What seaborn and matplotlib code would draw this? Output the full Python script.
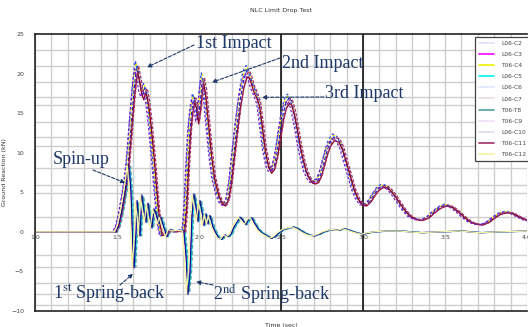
import numpy as np
import pandas as pd
import matplotlib
matplotlib.use("Agg")
import matplotlib.pyplot as plt
import seaborn as sns
from matplotlib.lines import Line2D
from matplotlib.ticker import FixedLocator, MultipleLocator

# ---------------- data ----------------
series_names = ["L06-C2", "L06-C3", "T06-C4", "L06-C5", "L06-C6", "L06-C7",
                "T06-T8", "T06-C9", "L06-C10", "T06-C11", "T06-C12"]
series_colors = ["#1a2cc8", "#ff00ff", "#f0f000", "#00f0f0", "#3050ff", "#8a0025",
                 "#50a0a0", "#7a20c8", "#101090", "#a0306a", "#f4f4a0"]
series_group = ["high", "low", "high", "low", "high", "high",
                "low", "high", "low", "high", "low"]
time_shift = [0.000, 0.008, -0.006, 0.012, -0.010, 0.004, 0.016, -0.014, 0.006, 0.010, -0.004]
gain = [1.00, 0.97, 1.02, 0.99, 1.03, 0.96, 1.01, 0.98, 1.04, 0.995, 1.015]

# main-gear type response (impacts and decaying oscillation)
high_t = [0.90, 1.488, 1.506, 1.524, 1.543, 1.555, 1.567, 1.579, 1.591, 1.604, 1.616, 1.622,
          1.634, 1.646, 1.659, 1.671, 1.677, 1.689, 1.701, 1.713, 1.726, 1.738, 1.750, 1.762,
          1.774, 1.793, 1.823, 1.854, 1.884, 1.909, 1.921, 1.933, 1.945, 1.957, 1.970, 1.982,
          1.994, 2.006, 2.018, 2.024, 2.037, 2.055, 2.073, 2.091, 2.116, 2.140, 2.159, 2.177,
          2.195, 2.213, 2.232, 2.250, 2.268, 2.287, 2.299, 2.311, 2.329, 2.348, 2.366, 2.384,
          2.402, 2.421, 2.439, 2.457, 2.476, 2.494, 2.512, 2.530, 2.549, 2.561, 2.579, 2.598,
          2.616, 2.634, 2.652, 2.671, 2.689, 2.707, 2.726, 2.744, 2.762, 2.780, 2.799, 2.823,
          2.848, 2.872, 2.896, 2.921, 2.945, 2.970, 2.994, 3.018, 3.043, 3.067, 3.091, 3.116,
          3.140, 3.165, 3.195, 3.226, 3.256, 3.287, 3.323, 3.360, 3.396, 3.433, 3.470, 3.506,
          3.543, 3.579, 3.616, 3.652, 3.689, 3.726, 3.762, 3.799, 3.835, 3.872, 3.909, 3.945,
          3.982, 4.018, 4.05]
high_v = [0.0, 0.0, 0.8, 2.5, 4.8, 6.5, 8.5, 11.5, 14.8, 18.0, 20.3, 21.0,
          19.8, 18.2, 17.4, 18.2, 18.0, 16.6, 14.5, 12.0, 9.0, 5.8, 2.8, 0.6,
          -0.5, -0.3, 0.2, 0.0, 0.1, 0.0, 3.0, 8.5, 13.0, 15.5, 17.0, 16.2,
          14.2, 16.0, 18.8, 19.5, 18.0, 14.0, 10.0, 7.0, 4.8, 3.6, 3.4, 4.2,
          6.5, 10.0, 13.5, 16.5, 18.8, 20.2, 20.4, 19.8, 18.5, 17.6, 16.5, 13.5,
          10.5, 8.5, 7.7, 8.2, 10.0, 12.5, 14.8, 16.3, 16.9, 16.7, 15.3, 13.2,
          11.0, 9.2, 7.8, 6.9, 6.4, 6.3, 6.5, 7.4, 8.8, 10.2, 11.3, 12.0,
          11.8, 10.8, 9.0, 7.2, 5.4, 4.2, 3.5, 3.4, 3.9, 4.7, 5.4, 5.8,
          5.8, 5.4, 4.6, 3.6, 2.7, 2.0, 1.6, 1.5, 1.8, 2.5, 3.1, 3.4,
          3.2, 2.6, 1.9, 1.3, 1.0, 0.9, 1.2, 1.8, 2.3, 2.5, 2.4, 2.0,
          1.6, 1.4, 1.4]

# spring-back type response (drops at each impact, then small ripples)
low_t = [0.90, 1.488, 1.506, 1.524, 1.543, 1.555, 1.567, 1.579, 1.591, 1.598, 1.610, 1.616,
         1.628, 1.634, 1.646, 1.659, 1.671, 1.683, 1.695, 1.707, 1.720, 1.732, 1.750, 1.762,
         1.780, 1.799, 1.817, 1.841, 1.872, 1.902, 1.915, 1.927, 1.939, 1.951, 1.963, 1.976,
         1.988, 2.000, 2.012, 2.024, 2.037, 2.049, 2.061, 2.079, 2.098, 2.116, 2.134, 2.152,
         2.171, 2.189, 2.207, 2.226, 2.244, 2.262, 2.280, 2.299, 2.317, 2.335, 2.360, 2.384,
         2.409, 2.433, 2.457, 2.482, 2.512, 2.543, 2.573, 2.604, 2.634, 2.665, 2.695, 2.726,
         2.756, 2.787, 2.817, 2.848, 2.878, 2.909, 2.951, 2.994, 3.030, 3.073, 3.134, 3.226,
         3.348, 3.470, 3.591, 3.713, 3.835, 4.018, 4.05]
low_v = [0.0, 0.0, 0.8, 2.5, 4.8, 6.5, 8.2, 5.0, -2.0, -4.4, 0.0, 3.8,
         1.5, -0.5, 4.5, 2.5, 1.2, 3.5, 1.8, 0.5, 2.8, 2.2, 1.0, 1.8,
         0.5, -0.6, 0.3, 0.1, 0.2, 0.1, -3.0, -7.6, -5.0, 2.0, 4.6, 3.0,
         1.3, 3.8, 2.5, 0.8, 2.2, 1.0, 2.0, 0.6, -0.2, -0.8, -0.9, -0.4,
         -0.6, -0.3, 0.6, 1.2, 1.8, 1.4, 0.9, 1.6, 1.7, 1.0, 0.2, -0.2,
         -0.5, -0.8, -0.6, -0.1, 0.3, 0.5, 0.6, 0.3, -0.1, -0.4, -0.5, -0.3,
         0.0, 0.2, 0.3, 0.2, 0.4, 0.2, -0.1, -0.3, -0.1, 0.0, 0.1, 0.1,
         -0.1, 0.0, 0.1, -0.1, 0.0, 0.1, 0.1]

y_ticks = [-10, -5, 0, 5, 10, 15, 20, 25]
x_ticks = [1.0, 1.5, 2.0, 2.5, 3.0, 3.5, 4.0]
x_tick_labels = ["1.0", "1.5", "2.0", "2.5", "3.0", "3.5", "4.0"]
y_grid_values = [23, 21, 20, 18.9, 17, 16, 13.9, 12, 10.8, 8.1, 5.9, 4.9, 1.9,
                 -2.9, -4.5, -6.4, -7.9, -9.3]
cursor_times = [2.5, 3.0]

# ---------------- build table ----------------
rows = []
for name, grp, sh, g in zip(series_names, series_group, time_shift, gain):
    bt, bv = (high_t, high_v) if grp == "high" else (low_t, low_v)
    for t, v in zip(bt, bv):
        rows.append((name, t + sh, v * g))
df = pd.DataFrame(rows, columns=["series", "time", "force"])

# ---------------- figure ----------------
sns.set_theme(style="white")
plt.rcParams["font.family"] = ["DejaVu Sans"]
plt.rcParams["mathtext.fontset"] = "stix"

W, H = 528, 327
fig = plt.figure(figsize=(W / 100, H / 100), dpi=100)
ax = fig.add_axes([35 / W, 1 - 311 / H, (527 - 35) / W, (311 - 34) / H])

ax.set_xlim(1.0, 4.0)
ax.set_ylim(-10, 25)

# grid
ax.xaxis.set_major_locator(FixedLocator(x_ticks))
ax.xaxis.set_minor_locator(MultipleLocator(0.1))
ax.yaxis.set_major_locator(FixedLocator(y_ticks))
ax.yaxis.set_minor_locator(FixedLocator(y_grid_values))
ax.grid(True, which="both", axis="x", color="#cdcdcd", lw=1.0, zorder=0)
ax.grid(True, which="minor", axis="y", color="#cdcdcd", lw=1.0, zorder=0)
ax.grid(False, which="major", axis="y")
ax.set_axisbelow(True)
for ct in cursor_times:
    ax.axvline(ct, color="black", lw=1.1, zorder=1.5)

palette = dict(zip(series_names, series_colors))
sns.lineplot(data=df, x="time", y="force", hue="series", hue_order=series_names,
             palette=palette, estimator=None, sort=False, lw=0.9, legend=False, ax=ax)
# the scanned original shows broken, interleaved strokes: dash some series
dash_styles = [(0, (3, 1.5)), None, (1, (2.5, 1.5)), None, (0, (2, 2)), None,
               (0, (3, 2)), (2, (2, 1.5)), None, (0, (2.5, 1.2)), None]
for line, ds in zip(ax.get_lines()[len(cursor_times):], dash_styles):
    if ds is not None:
        line.set_linestyle(ds)

# spines
for s in ["top", "left", "bottom"]:
    ax.spines[s].set_color("#222222")
    ax.spines[s].set_linewidth(1.2)
ax.spines["right"].set_visible(False)

# ticks
ax.tick_params(axis="both", which="both", length=0)
ax.tick_params(axis="x", labelbottom=False)
ax.tick_params(axis="y", labelsize=4.5, labelcolor="#444444", pad=8)

# x tick labels along the zero line
sec = ax.secondary_xaxis(10 / 35)
sec.spines["bottom"].set_visible(False)
sec.spines["top"].set_visible(False)
sec.set_xticks(x_ticks, labels=x_tick_labels)
sec.tick_params(length=0, labelsize=4.5, labelcolor="#444444", pad=2)

ax.set_xlabel("Time (sec)", fontsize=4.5, color="#333333", labelpad=5)
ax.set_ylabel("Ground Reaction (kN)", fontsize=4.5, color="#333333", labelpad=3)
ax.set_title("NLC Limit Drop Test", fontsize=4.5, color="#333333", pad=16)

# legend
handles = []
faint = {0, 4, 5, 7, 8}
for i, (name, col) in enumerate(zip(series_names, series_colors)):
    handles.append(Line2D([], [], color=col, lw=1.2, alpha=0.15 if i in faint else 1.0))
leg = ax.legend(handles, series_names, loc="upper right", bbox_to_anchor=(1.012, 1.0),
                fontsize=4.3, frameon=True, fancybox=False, handlelength=2.6,
                labelspacing=1.0, borderpad=0.6, handletextpad=1.2, framealpha=1)
leg.get_frame().set_edgecolor("#444444")
leg.get_frame().set_linewidth(0.9)
for t in leg.get_texts():
    t.set_color("#444444")

# annotations
ann_color = "#1c3868"
serif = ["Liberation Serif", "DejaVu Serif"]


def ptxt(x, y, s):
    fig.text(x / W, 1 - y / H, s, ha="left", va="center", fontsize=13,
             color=ann_color, family=serif)


def parrow(x0, y0, tip):
    ax.annotate("", xy=tip, xycoords="data", xytext=(x0, H - y0),
                textcoords="figure pixels",
                arrowprops=dict(arrowstyle="-|>", color=ann_color, lw=0.8,
                                linestyle=(0, (3, 1.5)), mutation_scale=6,
                                shrinkA=0, shrinkB=0))


ptxt(196, 43, "1st Impact")
parrow(194, 45, (1.683, 20.8))
ptxt(282, 63, "2nd Impact")
parrow(280, 58, (2.079, 18.9))
ptxt(325, 93, "3rd Impact")
parrow(324, 97, (2.384, 17.0))
ptxt(53, 160, "Spin-up")
parrow(93, 170, (1.549, 6.2))
ptxt(53, 294, r"1$^{\rm st}$ Spring-back")
parrow(120, 285, (1.598, -5.3))
ptxt(213, 294, r"2$^{\rm nd}$ Spring-back")
parrow(213, 285, (1.982, -6.3))

fig.savefig("out.png", dpi=100)
